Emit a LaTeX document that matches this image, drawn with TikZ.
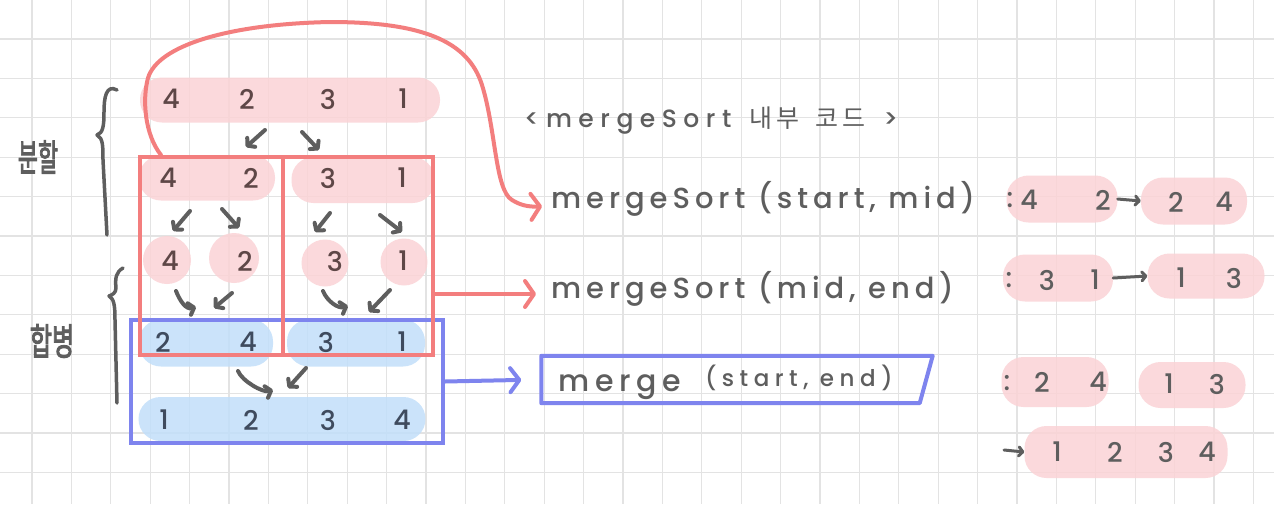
\documentclass[tikz,border=0pt]{standalone}
\usepackage{fontspec}
\setmainfont{Poppins Medium}
\newfontfamily\cjk[AutoFakeBold=3]{Noto Sans CJK KR}
\usetikzlibrary{arrows.meta,positioning,calc}
\definecolor{NotePink}{HTML}{FBD3D6}
\definecolor{NoteRed}{HTML}{F37E7E}
\definecolor{NoteSky}{HTML}{C2DFFA}
\definecolor{NoteViolet}{HTML}{7E84EE}
\definecolor{NoteInk}{HTML}{5E5E5E}
\definecolor{NoteBrown}{HTML}{5E4747}
\definecolor{NoteNavy}{HTML}{3F4B5E}
\definecolor{NoteGrid}{HTML}{E3E3E3}
\newcommand\handsize[1]{\fontsize{#1}{#1}\selectfont}
\newcommand\handspread[1]{\addfontfeatures{LetterSpace=#1}}

\begin{document}
\begin{tikzpicture}[
  x=1pt,y=-1pt,
  gridline/.style={NoteGrid,line width=1.1pt},
  pinkpill/.style={fill=NotePink,fill opacity=0.85,rounded corners=22pt,
    minimum height=45pt,inner sep=0pt},
  bluepill/.style={fill=NoteSky,fill opacity=0.85,rounded corners=22pt,
    minimum height=45pt,inner sep=0pt},
  pinkdot/.style={circle,fill=NotePink,fill opacity=0.85,inner sep=0pt},
  digit/.style={font=\handsize{27},text=NoteBrown,inner sep=0pt},
  bluedigit/.style={digit,text=NoteNavy},
  sidedigit/.style={digit,text=NoteInk},
  calltext/.style={font=\handsize{29}\handspread{17},text=NoteInk,inner sep=0pt,anchor=west},
  sidelabel/.style={font=\cjk\bfseries\handsize{23},text=NoteInk,inner sep=0pt},
  handarrow/.style={NoteInk,line width=4pt,line cap=round,
    -{Straight Barb[length=5pt,width=12pt,round]}},
  smallarrow/.style={NoteInk,line width=3pt,line cap=round,
    -{Straight Barb[length=4pt,width=9pt,round]}},
  redlink/.style={NoteRed,line width=4pt,line cap=round,
    -{Straight Barb[length=9pt,width=26pt,round]}},
  bluelink/.style={NoteViolet,line width=4pt,line cap=round,
    -{Straight Barb[length=9pt,width=24pt,round]}},
  bracestroke/.style={NoteInk,line width=3.5pt,line cap=round,line join=round},
]
\useasboundingbox (0,0) rectangle (1274,504);
\fill[white] (0,0) rectangle (1274,504);

% squared paper
\foreach \i in {0,...,31}
  \draw[gridline] (32+39.4*\i,0) -- (32+39.4*\i,504);
\foreach \j in {0,...,11}
  \draw[gridline] (0,39+39.4*\j) -- (1274,39+39.4*\j);

% split rows
\node[pinkpill,minimum width=300pt] (top) at (290,100) {};
\node[pinkpill,minimum width=136pt] (halfL) at (207,178) {};
\node[pinkpill,minimum width=143pt,minimum height=46pt] (halfR) at (363,180) {};
\node[pinkdot,minimum size=48pt] (oneA) at (167,260) {};
\node[pinkdot,minimum size=50pt] (oneB) at (234,258) {};
\node[pinkdot,minimum size=47pt] (oneC) at (325,263) {};
\node[pinkdot,minimum size=47pt] (oneD) at (404,262) {};

% merge rows
\node[bluepill,minimum width=134pt,minimum height=47pt] (sortL) at (206,343) {};
\node[bluepill,minimum width=138pt,minimum height=47pt] (sortR) at (356,343) {};
\node[bluepill,minimum width=287pt,minimum height=44pt] (sorted) at (282,419) {};

\node[draw=NoteViolet,line width=4pt,minimum width=312pt,minimum height=123pt,
  inner sep=0pt] (merged) at (287,381.5) {};
\node[draw=NoteRed,line width=4pt,minimum width=293pt,minimum height=198pt,
  inner sep=0pt] (split) at (286.5,256) {};
\draw[NoteRed,line width=4pt] ([xshift=-3.5pt]split.north) -- ([xshift=-3.5pt]split.south);

% digits
\foreach \d/\x [count=\i] in {4/171,2/247,3/328,1/403}
  \node[digit] (topd\i) at (\x,99) {\d};
\foreach \d/\x [count=\i] in {4/168,2/251,3/328,1/402}
  \node[digit] (halfd\i) at (\x,178) {\d};
\foreach \d/\x [count=\i] in {4/170,2/245,3/335,1/403}
  \node[digit] (oned\i) at (\x,261) {\d};
\foreach \d/\x [count=\i] in {2/163,4/248,3/326,1/402}
  \node[bluedigit] (sortd\i) at (\x,342) {\d};
\foreach \d/\x [count=\i] in {1/164,2/251,3/328,4/402}
  \node[bluedigit] (sortedd\i) at (\x,420) {\d};

% split / merge arrows
\foreach \n/\sx/\sy/\ex/\ey in {s1/265/130/246/147, s2/302/132/319/150,
    s3/190/211/173/231, s4/222/209/239/228, s5/330/213/315/232, s6/380/215/402/232,
    m2/232/293/214/308, m4/390/290/369/312, m6/306/368/288/388}{
  \coordinate (\n-from) at (\sx,\sy);
  \coordinate (\n-to) at (\ex,\ey);
  \draw[handarrow] (\n-from) -- (\n-to);
}
\foreach \n/\sx/\sy/\ex/\ey in {m1/176/291/196/307, m3/323/291/348/306, m5/238/371/273/390}{
  \coordinate (\n-from) at (\sx,\sy);
  \coordinate (\n-to) at (\ex,\ey);
  \draw[handarrow] (\n-from) .. controls +(4,10) and +(-10,3) .. (\n-to);
}

% braces and labels
\draw[bracestroke] (117,90) .. controls (106,84) and (104,98) .. (104,112)
  .. controls (104,126) and (103,133) .. (97,135)
  .. controls (103,138) and (103,146) .. (103,160) -- (107,235);
\draw[bracestroke] (123,268) .. controls (116,272) and (115,278) .. (116,288)
  .. controls (116,293) and (112,295) .. (109,296)
  .. controls (114,299) and (115,305) .. (115,320) -- (117,403);
\node[sidelabel] (splitlabel) at (38,157) {\scalebox{0.95}[1.6]{분할}};
\node[sidelabel] (mergelabel) at (52,341) {\scalebox{1.05}[1.6]{합병}};

% code notes
\node[calltext,font=\handsize{25}\handspread{26}] (codetitle) at (524,121)
  {<mergeSort\kern 18pt{\cjk\handsize{25}내\kern 4pt 부\kern 16pt 코\kern 4pt 드}\kern 18pt>};
\node[calltext] (callA) at (551,199) {mergeSort (start, mid)};
\node[calltext] (callB) at (551,289) {mergeSort (mid, end)};
\node[minimum width=391pt,minimum height=47pt,inner sep=0pt] (mcall) at (737,379.5) {};
\draw[NoteViolet,line width=4pt,line join=round] (mcall.north west) -- (mcall.north east)
  -- ([xshift=-13pt]mcall.south east) -- (mcall.south west) -- cycle;
\node[calltext,font=\handsize{30}\handspread{19}] (mergetext) at (558,382)
  {merge\hspace{24pt}\raisebox{5pt}{\handsize{23}\handspread{24}(start, end)}};

\draw[redlink,shorten >=9pt] ([xshift=23pt]split.north west)
  .. controls (145,135) and (142,100) .. (148,78)
  .. controls (158,45) and (230,24) .. (330,22)
  .. controls (420,22) and (468,40) .. (482,85)
  .. controls (496,130) and (495,190) .. (512,200)
  .. controls (520,205) and (528,207) .. ([yshift=-7pt]callA.west);
\draw[redlink,shorten >=15pt] ([yshift=-5pt]split.east |- callB.west) -- ([yshift=-5pt]callB.west);
\draw[bluelink,shorten >=20pt] (merged.east) -- (mcall.west);

% results
\node[pinkpill,minimum width=111pt,minimum height=47pt] (resA1) at (1062,199) {};
\node[pinkpill,minimum width=106pt,minimum height=47pt] (resA2) at (1194,201) {};
\node[pinkpill,minimum width=110pt,minimum height=47pt] (resB1) at (1058,278) {};
\node[pinkpill,minimum width=117pt] (resB2) at (1206,276) {};
\node[pinkpill,minimum width=107pt,minimum height=50pt] (resC1) at (1055,382) {};
\node[pinkpill,minimum width=107pt,minimum height=46pt] (resC2) at (1192,385) {};
\node[pinkpill,minimum width=203pt,minimum height=52pt] (resD) at (1126,452) {};

\foreach \n/\x/\y in {A/1010/200, B/1009/280, C/1007/383}
  \node[sidedigit] (colon\n) at (\x,\y) {:};
\foreach \d/\x/\y [count=\i] in {4/1029/200, 2/1103/200, 2/1176/202, 4/1224/202,
    3/1047/280, 1/1095/280, 1/1181/278, 3/1234/278,
    2/1042/382, 4/1098/382, 1/1169/384, 3/1217/384,
    1/1057/452, 2/1115/452, 3/1166/452, 4/1207/452}
  \node[sidedigit] (resd\i) at (\x,\y) {\d};

\draw[smallarrow] (resA1.east) -- (resA2.west);
\draw[smallarrow] (resB1.east) -- (resB2.west);
\coordinate (resDfrom) at (1004,450);
\draw[smallarrow] (resDfrom) -- (resD.west);
\end{tikzpicture}
\end{document}
